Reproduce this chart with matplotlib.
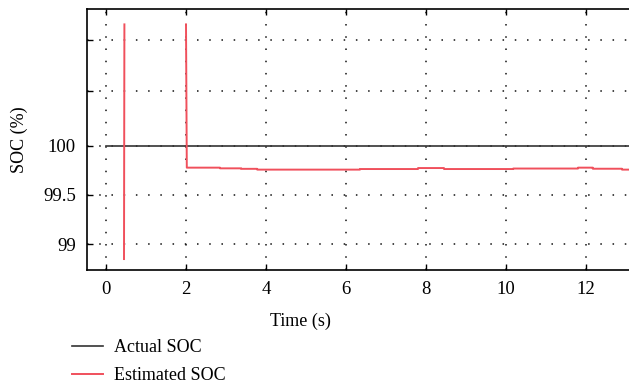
import numpy as np
import matplotlib.pyplot as plt

plt.rcParams['font.family'] = ['Liberation Serif', 'DejaVu Serif']

# actual SOC stays at 100 %
t_actual = [0.0, 13.1]
soc_actual = [100.0, 100.0]

# estimated SOC: spike near 0.45 s, then settles after 2 s
t_est = [0.45, 0.46, np.nan, 2.0, 2.02, 2.85, 2.85, 3.38, 3.38, 3.78, 3.78,
         6.35, 6.35, 7.8, 7.8, 8.45, 8.45, 10.18, 10.18, 11.8, 11.8,
         12.17, 12.17, 12.9, 12.9, 13.1]
soc_est = [98.85, 101.23, np.nan, 101.23, 99.777, 99.777, 99.77, 99.77, 99.765,
           99.765, 99.757, 99.757, 99.763, 99.763, 99.773, 99.773, 99.763,
           99.763, 99.768, 99.768, 99.777, 99.777, 99.766, 99.766, 99.757, 99.757]

xticks = [0, 2, 4, 6, 8, 10, 12]
yticks = [99, 99.5, 100, 100.555, 101.072]
ylabels = ['99', '99.5', '100', '', '']

fig = plt.figure(figsize=(6.29, 3.88), dpi=100)
ax = fig.add_axes([87/629, 1 - 270/388, 1 - 87/629, 261/388])

ax.plot(t_actual, soc_actual, color='#333333', lw=1.2, label='Actual SOC')
ax.plot(t_est, soc_est, color='#f0505c', lw=1.4, label='Estimated SOC')

ax.set_xlim(-0.475, 13.075)
ax.set_ylim(98.739, 101.386)
ax.set_xticks(xticks)
ax.set_yticks(yticks)
ax.set_yticklabels(ylabels)
ax.tick_params(direction='in', top=True, right=False, length=4, width=1,
               labelsize=13.5, pad=8)
ax.grid(True, color='#111111', linestyle=(0, (1, 7)), lw=1.1)
ax.spines['right'].set_visible(False)
for s in ['left', 'top', 'bottom']:
    ax.spines[s].set_linewidth(1.2)

ax.set_xlabel('Time (s)', fontsize=13)
ax.xaxis.set_label_coords((300 - 87) / 542, -0.165)
ax.set_ylabel('SOC (%)', fontsize=13, labelpad=11)

fig.legend(loc='upper left', bbox_to_anchor=(72/629, 1 - 339/388),
           frameon=False, fontsize=13, handlelength=1.7, handletextpad=0.65,
           labelspacing=0.6, borderpad=0, borderaxespad=0)

fig.savefig('out.png', dpi=100)
